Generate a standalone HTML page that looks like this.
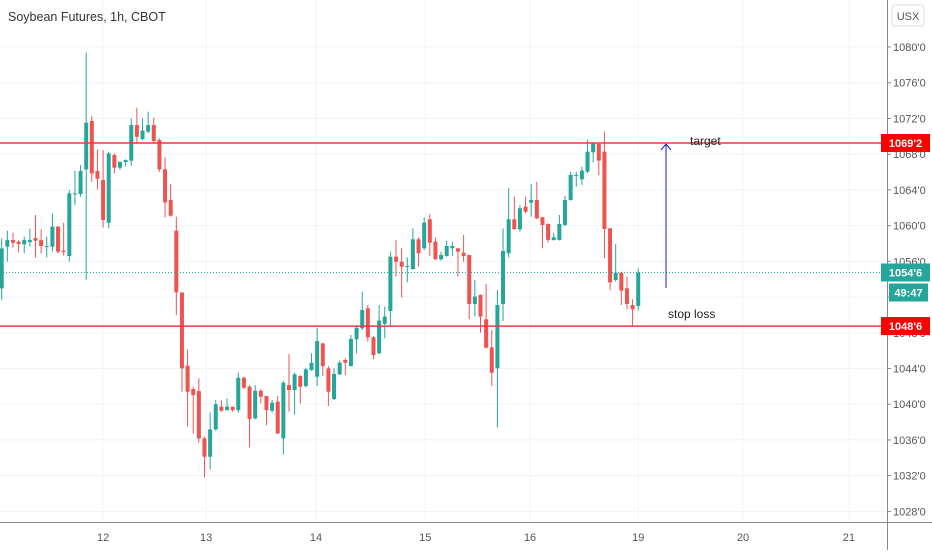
<!DOCTYPE html>
<html><head><meta charset="utf-8"><style>
html,body{margin:0;padding:0;background:#fff;}
body{width:932px;height:550px;overflow:hidden;font-family:"Liberation Sans",sans-serif;}
</style></head><body>
<svg id="chart" width="932" height="550" viewBox="0 0 932 550" xmlns="http://www.w3.org/2000/svg" font-family="Liberation Sans, sans-serif">
<g id="grid"></g>
<g id="candles"></g>
<g id="overlay"></g>
<g id="axes"></g>
</svg>
<script>
const opens=[1052.97,1057.64,1058.38,1058.2,1057.9,1058.16,1058.61,1058.38,1057.64,1057.64,1059.88,1057.19,1056.59,1063.5,1063.53,1066.3,1071.71,1066.11,1065.1,1060.32,1067.9,1066.48,1067.12,1067.27,1071.26,1069.69,1070.52,1071.26,1069.58,1066.3,1062.86,1059.43,1052.52,1044.31,1041.7,1041.47,1036.17,1034.12,1037.18,1039.72,1039.34,1039.72,1039.34,1042.96,1041.96,1038.41,1041.51,1040.91,1039.27,1040.28,1036.17,1042.14,1041.58,1043.15,1042.03,1043.82,1043.08,1046.81,1044.01,
1040.58,1043.35,1044.95,1044.28,1047.27,1048.5,1050.74,1047.49,1045.7,1048.99,1050.44,1056.52,1055.96,1055.4,1055.14,1058.47,1057.46,1060.71,1058.2,1056.23,1056.6,1057.46,1057.46,1056.97,1056.71,1051.22,1052.23,1049.51,1046.37,1044.02,1051.22,1056.9,1060.71,1059.59,1062.12,1062.57,1062.87,1060.93,1060.18,1058.39,1058.39,1060.07,1062.87,1065.56,1065.19,1066.04,1068.21,1069.14,1068.28,1059.7,1053.91,1054.73,1052.98,1051.11,1051.0];
const highs=[1058.57,1059.43,1059.2,1058.38,1058.76,1059.65,1061.18,1059.58,1058.76,1061.37,1059.95,1060.32,1063.98,1066.15,1066.78,1079.4,1072.27,1068.54,1068.46,1068.27,1068.09,1067.15,1067.42,1072.01,1073.2,1072.01,1072.75,1072.08,1069.77,1067.64,1064.62,1061.0,1052.52,1046.14,1041.96,1042.89,1036.36,1039.08,1040.46,1040.46,1040.65,1039.72,1043.56,1043.08,1042.14,1042.14,1041.66,1040.91,1040.46,1040.91,1042.63,1045.62,1043.56,1043.26,1044.08,1045.69,1048.56,1046.88,1044.27,
1044.02,1044.88,1045.14,1047.75,1048.87,1052.61,1051.11,1047.64,1051.11,1050.93,1057.08,1058.39,1057.46,1056.45,1059.7,1058.69,1060.93,1061.3,1058.69,1057.08,1058.32,1058.2,1057.46,1058.95,1056.71,1053.91,1052.31,1053.46,1048.31,1052.79,1059.7,1064.18,1063.24,1062.31,1063.24,1064.66,1064.89,1061.0,1060.26,1059.21,1061.19,1063.32,1066.04,1066.04,1066.6,1069.59,1069.22,1069.22,1070.52,1059.7,1057.94,1054.84,1054.28,1051.75,1055.22];
const lows=[1051.66,1055.96,1057.56,1057.0,1056.89,1057.64,1056.44,1056.89,1056.44,1057.08,1056.89,1056.63,1055.96,1062.3,1063.23,1053.9,1064.91,1064.06,1059.8,1059.69,1065.85,1066.22,1066.6,1066.71,1069.21,1069.58,1070.33,1069.21,1066.03,1060.92,1061.0,1049.98,1041.4,1037.48,1036.73,1035.69,1031.8,1032.7,1037.03,1039.16,1039.27,1039.16,1039.05,1041.66,1035.16,1038.3,1040.09,1037.66,1039.05,1036.66,1034.38,1039.16,1038.86,1040.09,1041.88,1043.75,1042.03,1043.15,1039.79,
1040.47,1043.27,1043.27,1044.21,1045.7,1048.31,1047.01,1045.03,1045.62,1047.38,1048.76,1054.28,1051.97,1053.65,1055.03,1055.4,1057.27,1056.6,1056.15,1056.08,1056.52,1056.6,1054.28,1055.96,1049.51,1049.81,1048.01,1046.26,1042.04,1037.41,1049.32,1056.45,1059.51,1059.32,1061.38,1061.0,1060.71,1057.46,1058.09,1058.32,1058.32,1059.96,1062.8,1064.36,1064.55,1065.86,1067.09,1065.67,1056.34,1052.79,1053.72,1051.11,1050.63,1048.76,1050.48];
const closes=[1057.45,1058.38,1058.08,1057.94,1058.38,1058.38,1058.31,1057.71,1057.71,1059.88,1057.08,1057.04,1063.61,1063.61,1066.11,1071.52,1065.85,1065.25,1060.62,1068.09,1066.48,1067.15,1067.34,1071.26,1069.95,1070.63,1071.26,1069.47,1066.3,1062.6,1061.11,1052.52,1044.01,1041.4,1041.02,1036.17,1034.12,1037.18,1040.0,1039.27,1039.72,1039.34,1042.96,1041.85,1038.34,1041.51,1040.84,1039.34,1040.16,1036.73,1042.4,1041.58,1043.34,1041.96,1043.9,1044.64,1047.07,1044.27,1041.4,
1043.38,1044.65,1044.65,1047.3,1048.57,1050.55,1047.49,1045.51,1049.36,1049.81,1056.52,1055.96,1055.4,1055.48,1058.47,1056.9,1060.33,1058.09,1056.23,1056.71,1057.72,1057.72,1057.08,1056.6,1051.22,1052.05,1049.81,1046.33,1043.53,1051.11,1057.16,1060.71,1059.62,1061.94,1061.56,1062.87,1060.82,1060.07,1058.39,1058.69,1060.18,1062.87,1065.67,1065.67,1066.16,1068.28,1069.22,1067.28,1059.62,1053.65,1054.73,1052.72,1051.22,1050.63,1054.73];
const priceTicks=[1080,1076,1072,1068,1064,1060,1056,1052,1048,1044,1040,1036,1032,1028];
const priceTickLabels=["1080'0","1076'0","1072'0","1068'0","1064'0","1060'0","1056'0","1052'0","1048'0","1044'0","1040'0","1036'0","1032'0","1028'0"];
const dayLabels=["12","13","14","15","16","19","20","21"];
const dayBarIndex=[18,36.3,55.8,75.2,93.8,113,131.6,150.4];
const targetLevel=1069.25, stopLevel=1048.75, lastPrice=1054.75;

const NS="http://www.w3.org/2000/svg";
const PLOT_R=887, PLOT_B=522;
function yScale(p){return 143+(1069.25-p)*8.93;}
function xScale(i){return 1.7+i*5.633;}
function el(tag,attrs,parent){const e=document.createElementNS(NS,tag);for(const k in attrs)e.setAttribute(k,attrs[k]);parent.appendChild(e);return e;}
const grid=document.getElementById('grid'),cg=document.getElementById('candles'),ov=document.getElementById('overlay'),ax=document.getElementById('axes');

priceTicks.forEach((p,i)=>{
  const l=el('line',{x1:0,x2:PLOT_R,y1:yScale(p),y2:yScale(p),stroke:'#f0f3fa','stroke-width':1},grid);
  
  
  const t=el('line',{x1:PLOT_R,x2:PLOT_R+4,y1:yScale(p),y2:yScale(p),stroke:'#888','stroke-width':1},ax);
  
  
  const tx=el('text',{x:893,y:yScale(p)+4,'font-size':11,fill:'#555'},ax);
  tx.textContent=priceTickLabels[i];
  
  
});
dayLabels.forEach((d,i)=>{
  const x=xScale(dayBarIndex[i]);
  const l=el('line',{x1:x,x2:x,y1:0,y2:PLOT_B,stroke:'#f0f3fa','stroke-width':1},grid);
  
  
  const tx=el('text',{x:x,y:541,'font-size':11,fill:'#555','text-anchor':'middle'},ax);
  tx.textContent=d;
  
  
});

for(let i=0;i<opens.length;i++){
  const up=closes[i]>=opens[i];
  const col=up?'#26a69a':'#ef5350';
  const x=xScale(i);
  const w=el('line',{x1:x,x2:x,y1:yScale(highs[i]),y2:yScale(lows[i]),stroke:col,'stroke-width':1},cg);
  
  
  const top=yScale(Math.max(opens[i],closes[i])),bot=yScale(Math.min(opens[i],closes[i]));
  const b=el('rect',{x:x-2,y:top,width:4,height:Math.max(1,bot-top),fill:col},cg);
  
  
}

// overlays
const yl=yScale(lastPrice);
let e=el('line',{x1:0,x2:PLOT_R,y1:yl,y2:yl,stroke:'#26a69a','stroke-width':1,'stroke-dasharray':'1 2'},ov);


e=el('line',{x1:0,x2:PLOT_R,y1:yScale(targetLevel),y2:yScale(targetLevel),stroke:'#f23645','stroke-width':1.5},ov);


e=el('line',{x1:0,x2:PLOT_R,y1:yScale(stopLevel),y2:yScale(stopLevel),stroke:'#f23645','stroke-width':1.5},ov);


e=el('line',{x1:666,x2:666,y1:288,y2:yScale(targetLevel)+1,stroke:'#1e1ec8','stroke-width':1},ov);


e=el('path',{d:`M661 ${yScale(targetLevel)+7} L666 ${yScale(targetLevel)+1} L671 ${yScale(targetLevel)+7}`,stroke:'#1e1ec8','stroke-width':1,fill:'none'},ov);


e=el('text',{x:690,y:yScale(targetLevel)+2,'font-size':12,fill:'#222'},ov);
e.textContent='target';


e=el('text',{x:668,y:yScale(stopLevel)-8,'font-size':12,fill:'#222'},ov);
e.textContent='stop loss';


e=el('text',{x:8,y:21,'font-size':12.5,fill:'#333'},ov);
e.textContent='Soybean Futures, 1h, CBOT';



// axes borders
e=el('line',{x1:PLOT_R+0.5,x2:PLOT_R+0.5,y1:0,y2:550,stroke:'#888','stroke-width':1},ax);


e=el('line',{x1:0,x2:932,y1:PLOT_B+0.5,y2:PLOT_B+0.5,stroke:'#888','stroke-width':1},ax);


e=el('rect',{x:892,y:5,width:32,height:21,rx:3,fill:'#fff',stroke:'#ddd'},ax);


e=el('text',{x:908,y:20,'font-size':11,fill:'#555','text-anchor':'middle'},ax);
e.textContent='USX';



function badge(name,y,txt,bg,x,w){
  const r=el('rect',{x:x,y:y-9,width:w,height:18,fill:bg},ax);
  
  
  const t=el('text',{x:x+w/2,y:y+4,'font-size':11,'font-weight':'bold',fill:'#fff','text-anchor':'middle'},ax);
  t.textContent=txt;
  
  
}
badge('target-price-badge',yScale(targetLevel),"1069'2",'#f00',881,49);
badge('last-price-badge',yl,"1054'6",'#26a69a',881,49);
badge('countdown-badge',yl+20,'49:47','#26a69a',889,39);
badge('stop-price-badge',yScale(stopLevel),"1048'6",'#f00',881,49);
</script>
</body></html>
